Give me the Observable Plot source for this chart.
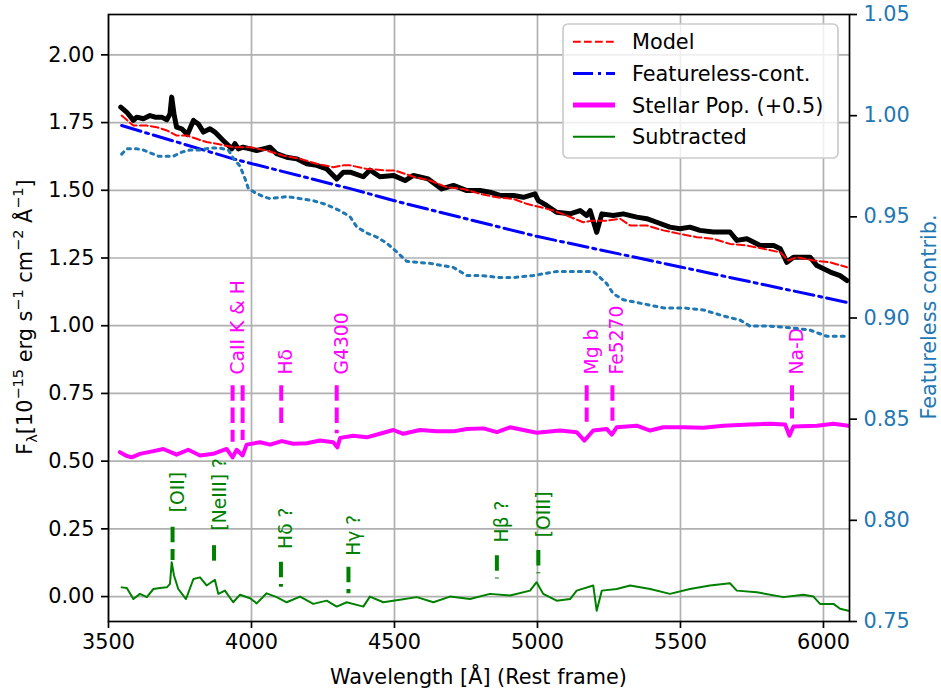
<!DOCTYPE html>
<html><head><meta charset="utf-8">
<script src="https://cdn.jsdelivr.net/npm/d3@7"></script>
<script src="https://cdn.jsdelivr.net/npm/@observablehq/plot@0.6"></script>
<style>
body{margin:0;background:#fff;}
#chart{width:941px;height:691px;}
</style></head><body><div id="chart"></div>
<script>
// ---- data ----
const xTicks = [3500, 4000, 4500, 5000, 5500, 6000];
const yTicks = [0, 0.25, 0.5, 0.75, 1.0, 1.25, 1.5, 1.75, 2.0];
const rightTicks = [0.75, 0.80, 0.85, 0.90, 0.95, 1.00, 1.05];

const obsWl = [3543,3564,3587,3599,3622,3645,3663,3686,3704,3715,3721,3729,3738,3756,3776,3797,3814,3832,3855,3872,3890,3901,3913,3931,3942,3954,3971,3995,4018,4041,4065,4088,4123,4158,4193,4228,4263,4298,4321,4345,4391,4414,4449,4496,4537,4566,4618,4665,4706,4753,4799,4834,4869,4916,4951,4991,5003,5032,5067,5114,5149,5172,5184,5207,5225,5265,5300,5347,5382,5417,5463,5498,5533,5568,5615,5673,5697,5732,5779,5826,5849,5872,5895,5953,5977,6024,6058,6082];
const obsFlux = [1.807,1.788,1.758,1.770,1.764,1.776,1.770,1.770,1.760,1.782,1.844,1.782,1.733,1.727,1.706,1.758,1.745,1.715,1.727,1.715,1.696,1.684,1.672,1.653,1.672,1.653,1.659,1.653,1.647,1.653,1.659,1.635,1.622,1.616,1.598,1.592,1.579,1.542,1.567,1.567,1.550,1.575,1.550,1.555,1.536,1.555,1.542,1.505,1.518,1.499,1.499,1.493,1.481,1.481,1.474,1.487,1.462,1.444,1.419,1.413,1.425,1.407,1.425,1.345,1.413,1.407,1.413,1.401,1.395,1.382,1.364,1.358,1.364,1.352,1.346,1.346,1.315,1.321,1.296,1.296,1.284,1.234,1.253,1.253,1.222,1.198,1.185,1.167];

const modelWl = [3546,3587,3634,3669,3704,3738,3773,3808,3843,3878,3936,3995,4053,4111,4170,4228,4286,4321,4345,4403,4473,4502,4566,4624,4683,4741,4799,4858,4916,4962,5009,5056,5102,5160,5195,5242,5289,5324,5382,5440,5498,5557,5615,5673,5732,5790,5849,5877,5907,5965,6023,6082];
const modelFlux = [1.776,1.739,1.739,1.733,1.721,1.702,1.702,1.690,1.678,1.672,1.659,1.659,1.647,1.628,1.616,1.598,1.585,1.592,1.592,1.579,1.573,1.573,1.550,1.536,1.511,1.505,1.487,1.474,1.468,1.450,1.438,1.425,1.407,1.382,1.388,1.388,1.395,1.370,1.370,1.352,1.339,1.327,1.321,1.302,1.296,1.284,1.271,1.241,1.253,1.241,1.234,1.216];

const fcWl = [3546,3936,4345,4519,4997,5500,6088];
const fcFlux = [1.739,1.616,1.506,1.456,1.330,1.217,1.085];

const starWl = [3540,3562,3581,3610,3657,3692,3738,3779,3820,3866,3913,3934,3948,3969,3983,4030,4065,4106,4146,4193,4240,4286,4300,4310,4356,4403,4449,4496,4531,4589,4648,4706,4753,4811,4858,4904,4997,5079,5137,5164,5195,5242,5260,5277,5347,5394,5440,5510,5580,5650,5743,5813,5866,5881,5895,5977,6035,6087];
const starFlux = [0.533,0.520,0.514,0.527,0.537,0.545,0.524,0.542,0.521,0.527,0.545,0.514,0.542,0.521,0.561,0.570,0.561,0.574,0.564,0.566,0.576,0.570,0.551,0.586,0.594,0.588,0.601,0.615,0.601,0.615,0.610,0.610,0.619,0.621,0.607,0.625,0.605,0.613,0.607,0.576,0.613,0.619,0.598,0.625,0.631,0.613,0.625,0.625,0.623,0.631,0.635,0.638,0.635,0.594,0.628,0.631,0.638,0.631];

const subWl = [3546,3564,3587,3610,3634,3657,3680,3704,3715,3721,3729,3744,3771,3797,3820,3843,3872,3884,3907,3936,3960,3995,4018,4053,4088,4123,4170,4216,4263,4298,4333,4391,4414,4461,4519,4578,4636,4694,4764,4834,4904,4974,4997,5020,5067,5114,5137,5195,5207,5225,5277,5324,5394,5463,5533,5603,5673,5697,5767,5860,5930,5965,5988,6035,6058,6087];
const subFlux = [0.034,0.032,-0.009,0.010,-0.002,0.028,0.032,0.034,0.047,0.127,0.078,0.028,-0.009,0.065,0.071,0.041,0.062,0.010,0.022,-0.021,0.007,-0.006,-0.025,0.012,-0.002,-0.021,0.000,-0.027,-0.015,-0.037,-0.021,-0.037,0.000,-0.021,-0.012,-0.002,-0.021,0.000,-0.009,0.010,0.004,0.022,0.053,0.010,-0.015,-0.009,0.022,0.041,-0.052,0.022,0.028,0.041,0.028,0.010,0.028,0.041,0.049,0.022,0.016,-0.002,0.007,0.000,-0.027,-0.027,-0.045,-0.052];

const contribWl = [3546,3564,3600,3622,3674,3704,3727,3756,3785,3820,3855,3890,3919,3936,3960,3977,3989,4012,4041,4065,4123,4170,4216,4263,4310,4345,4368,4403,4438,4473,4513,4543,4624,4706,4753,4799,4869,4916,4986,5067,5149,5195,5219,5242,5265,5300,5370,5440,5510,5580,5650,5708,5743,5813,5895,5953,6011,6087];
const contribFrac = [0.981,0.9836,0.9836,0.983,0.980,0.980,0.980,0.982,0.983,0.983,0.984,0.984,0.983,0.979,0.975,0.969,0.964,0.962,0.960,0.959,0.960,0.959,0.958,0.956,0.953,0.950,0.945,0.942,0.940,0.937,0.932,0.928,0.927,0.925,0.921,0.921,0.920,0.920,0.921,0.923,0.923,0.923,0.920,0.917,0.912,0.909,0.907,0.905,0.905,0.904,0.901,0.899,0.896,0.896,0.895,0.894,0.891,0.891];

// absorption markers (stellar population)
const absRuleWl = [3934, 3969, 4104, 4298, 5172, 5262, 5890];
const absRuleLow = [0.570, 0.576, 0.619, 0.601, 0.644, 0.647, 0.656];
const absRuleHigh = [0.778, 0.778, 0.778, 0.778, 0.778, 0.778, 0.778];
const absLabelWl = [3934, 4104, 4298, 5172, 5262, 5890];
const absLabels = ["CaII K & H", "Hδ", "G4300", "Mg b", "Fe5270", "Na-D"];
const absLabelY = [0.82, 0.82, 0.82, 0.82, 0.82, 0.82];

// emission markers (subtracted spectrum)
const emWl = [3724, 3869, 4103, 4339, 4858, 5003];
const emLow = [0.133, 0.108, 0.034, 0.010, 0.065, 0.084];
const emHigh = [0.256, 0.188, 0.127, 0.108, 0.151, 0.170];
const emLabels = ["[OII]", "[NeIII] ?", "Hδ ?", "Hγ ?", "Hβ ?", "[OIII]"];
const emLabelY = [0.311, 0.244, 0.176, 0.151, 0.200, 0.219];

const legendNames = ["Model", "Featureless-cont.", "Stellar Pop. (+0.5)", "Subtracted"];

// ---- scales ----
const Y0 = -0.092, Y1 = 2.149, R0 = 0.75, R1 = 1.05;
const toLeft = v => Y0 + (v - R0) / (R1 - R0) * (Y1 - Y0);
const toRight = v => (v - Y0) / (Y1 - Y0) * (R1 - R0) + R0;
const zip = (a, b) => a.map((w, i) => [w, b[i]]);

const FONT = "DejaVu Sans";
const plot = Plot.plot({
  width: 941, height: 691,
  marginLeft: 108, marginRight: 92, marginTop: 14, marginBottom: 70,
  style: {fontFamily: FONT, fontSize: "20.8px", background: "#fff", color: "#000"},
  x: {domain: [3500, 6091]},
  y: {domain: [Y0, Y1]},
  marks: [
    Plot.gridX(xTicks, {stroke: "#b0b0b0", strokeOpacity: 1, strokeWidth: 1.7}),
    Plot.gridY(yTicks, {stroke: "#b0b0b0", strokeOpacity: 1, strokeWidth: 1.7}),
    Plot.line(zip(obsWl, obsFlux), {stroke: "#000", strokeWidth: 5, strokeLinejoin: "round", strokeLinecap: "round"}),
    Plot.line(zip(modelWl, modelFlux), {stroke: "#ff0000", strokeWidth: 2, strokeDasharray: "7.7,3.3"}),
    Plot.line(zip(fcWl, fcFlux), {stroke: "#0000ff", strokeWidth: 3, strokeDasharray: "20,5,3,5"}),
    Plot.line(zip(starWl, starFlux), {stroke: "#ff00ff", strokeWidth: 4, strokeLinejoin: "round"}),
    Plot.line(zip(subWl, subFlux), {stroke: "#008000", strokeWidth: 2}),
    Plot.ruleX(absRuleWl.map((w, i) => ({w, lo: absRuleLow[i], hi: absRuleHigh[i]})),
      {x: "w", y1: "hi", y2: "lo", stroke: "#ff00ff", strokeWidth: 4, strokeDasharray: "15.5,6.7"}),
    Plot.text(absLabelWl.map((w, i) => ({w, y: absLabelY[i], t: absLabels[i]})),
      {x: "w", y: "y", text: "t", rotate: -90, textAnchor: "start", dx: 5, fill: "#ff00ff", fontSize: 18.7}),
    Plot.ruleX(emWl.map((w, i) => ({w, lo: emLow[i], hi: emHigh[i]})),
      {x: "w", y1: "hi", y2: "lo", stroke: "#008000", strokeWidth: 4, strokeDasharray: "15.5,6.7"}),
    Plot.text(emWl.map((w, i) => ({w, y: emLabelY[i], t: emLabels[i]})),
      {x: "w", y: "y", text: "t", rotate: -90, textAnchor: "start", dx: 5.5, fill: "#008000", fontSize: 18.7}),
    Plot.line(contribWl.map((w, i) => [w, toLeft(contribFrac[i])]),
      {stroke: "#1f77b4", strokeWidth: 3, strokeDasharray: "3,5"}),
    Plot.frame({stroke: "#000", strokeWidth: 1.7}),
    Plot.axisX(xTicks, {anchor: "bottom", tickSize: 7, tickPadding: 6, strokeWidth: 1.7, tickFormat: d3.format("d"), label: null}),
    Plot.axisY(yTicks, {anchor: "left", tickSize: 7, tickPadding: 7, strokeWidth: 1.7, tickFormat: d3.format(".2f"), label: null}),
    Plot.axisY(rightTicks.map(toLeft), {anchor: "right", tickSize: 7, tickPadding: 7, strokeWidth: 1.7,
      tickFormat: d => toRight(d).toFixed(2), fill: "#1f77b4", label: null})
  ]
});

const svg = d3.select(plot);
// axis titles
svg.append("text").attr("x", 478.5).attr("y", 684).attr("text-anchor", "middle")
  .attr("font-family", FONT).attr("font-size", 20.8).attr("fill", "#000")
  .text("Wavelength [Å] (Rest frame)");

const yl = svg.append("text").attr("transform", "translate(32,317) rotate(-90)")
  .attr("text-anchor", "middle").attr("font-family", FONT).attr("font-size", 20.8).attr("fill", "#000");
const parts = [["F", 0], ["λ", 1], ["[10", 0], ["−15", 2], [" erg s", 0], ["−1", 2], [" cm", 0], ["−2", 2], [" Å", 0], ["−1", 2], ["]", 0]];
parts.forEach(([t, k], i) => {
  const prev = i > 0 ? parts[i - 1][1] : 0;
  let dy = 0;
  if (prev === 1) dy -= 5;
  if (prev === 2) dy += 9;
  if (k === 1) dy += 5;
  if (k === 2) dy -= 9;
  const ts = yl.append("tspan").attr("dy", dy).text(t);
  if (k) ts.attr("font-size", 14.5);
});

svg.append("text").attr("transform", "translate(936,317) rotate(-90)")
  .attr("text-anchor", "middle").attr("font-family", FONT).attr("font-size", 20.8).attr("fill", "#1f77b4")
  .text("Featureless contrib.");

// legend
const lg = svg.append("g");
lg.append("rect").attr("x", 563).attr("y", 24).attr("width", 275).attr("height", 134).attr("rx", 5)
  .attr("fill", "#fff").attr("fill-opacity", 0.8).attr("stroke", "#cccccc").attr("stroke-width", 1.7);
const sw = [
  {stroke: "#ff0000", w: 2, dash: "7.7,3.3"},
  {stroke: "#0000ff", w: 3, dash: "20,5,3,5"},
  {stroke: "#ff00ff", w: 5, dash: null},
  {stroke: "#008000", w: 2, dash: null}
];
const rowY = [41.7, 73.4, 105.1, 136.8];
legendNames.forEach((name, i) => {
  const l = lg.append("line").attr("x1", 573).attr("x2", 615).attr("y1", rowY[i]).attr("y2", rowY[i])
    .attr("stroke", sw[i].stroke).attr("stroke-width", sw[i].w);
  if (sw[i].dash) l.attr("stroke-dasharray", sw[i].dash);
  lg.append("text").attr("x", 632).attr("y", rowY[i]).attr("dy", "0.36em").attr("text-anchor", "start")
    .attr("font-family", FONT).attr("font-size", 20.8).attr("fill", "#000").text(name);
});

document.getElementById("chart").appendChild(plot);
</script>
</body></html>
